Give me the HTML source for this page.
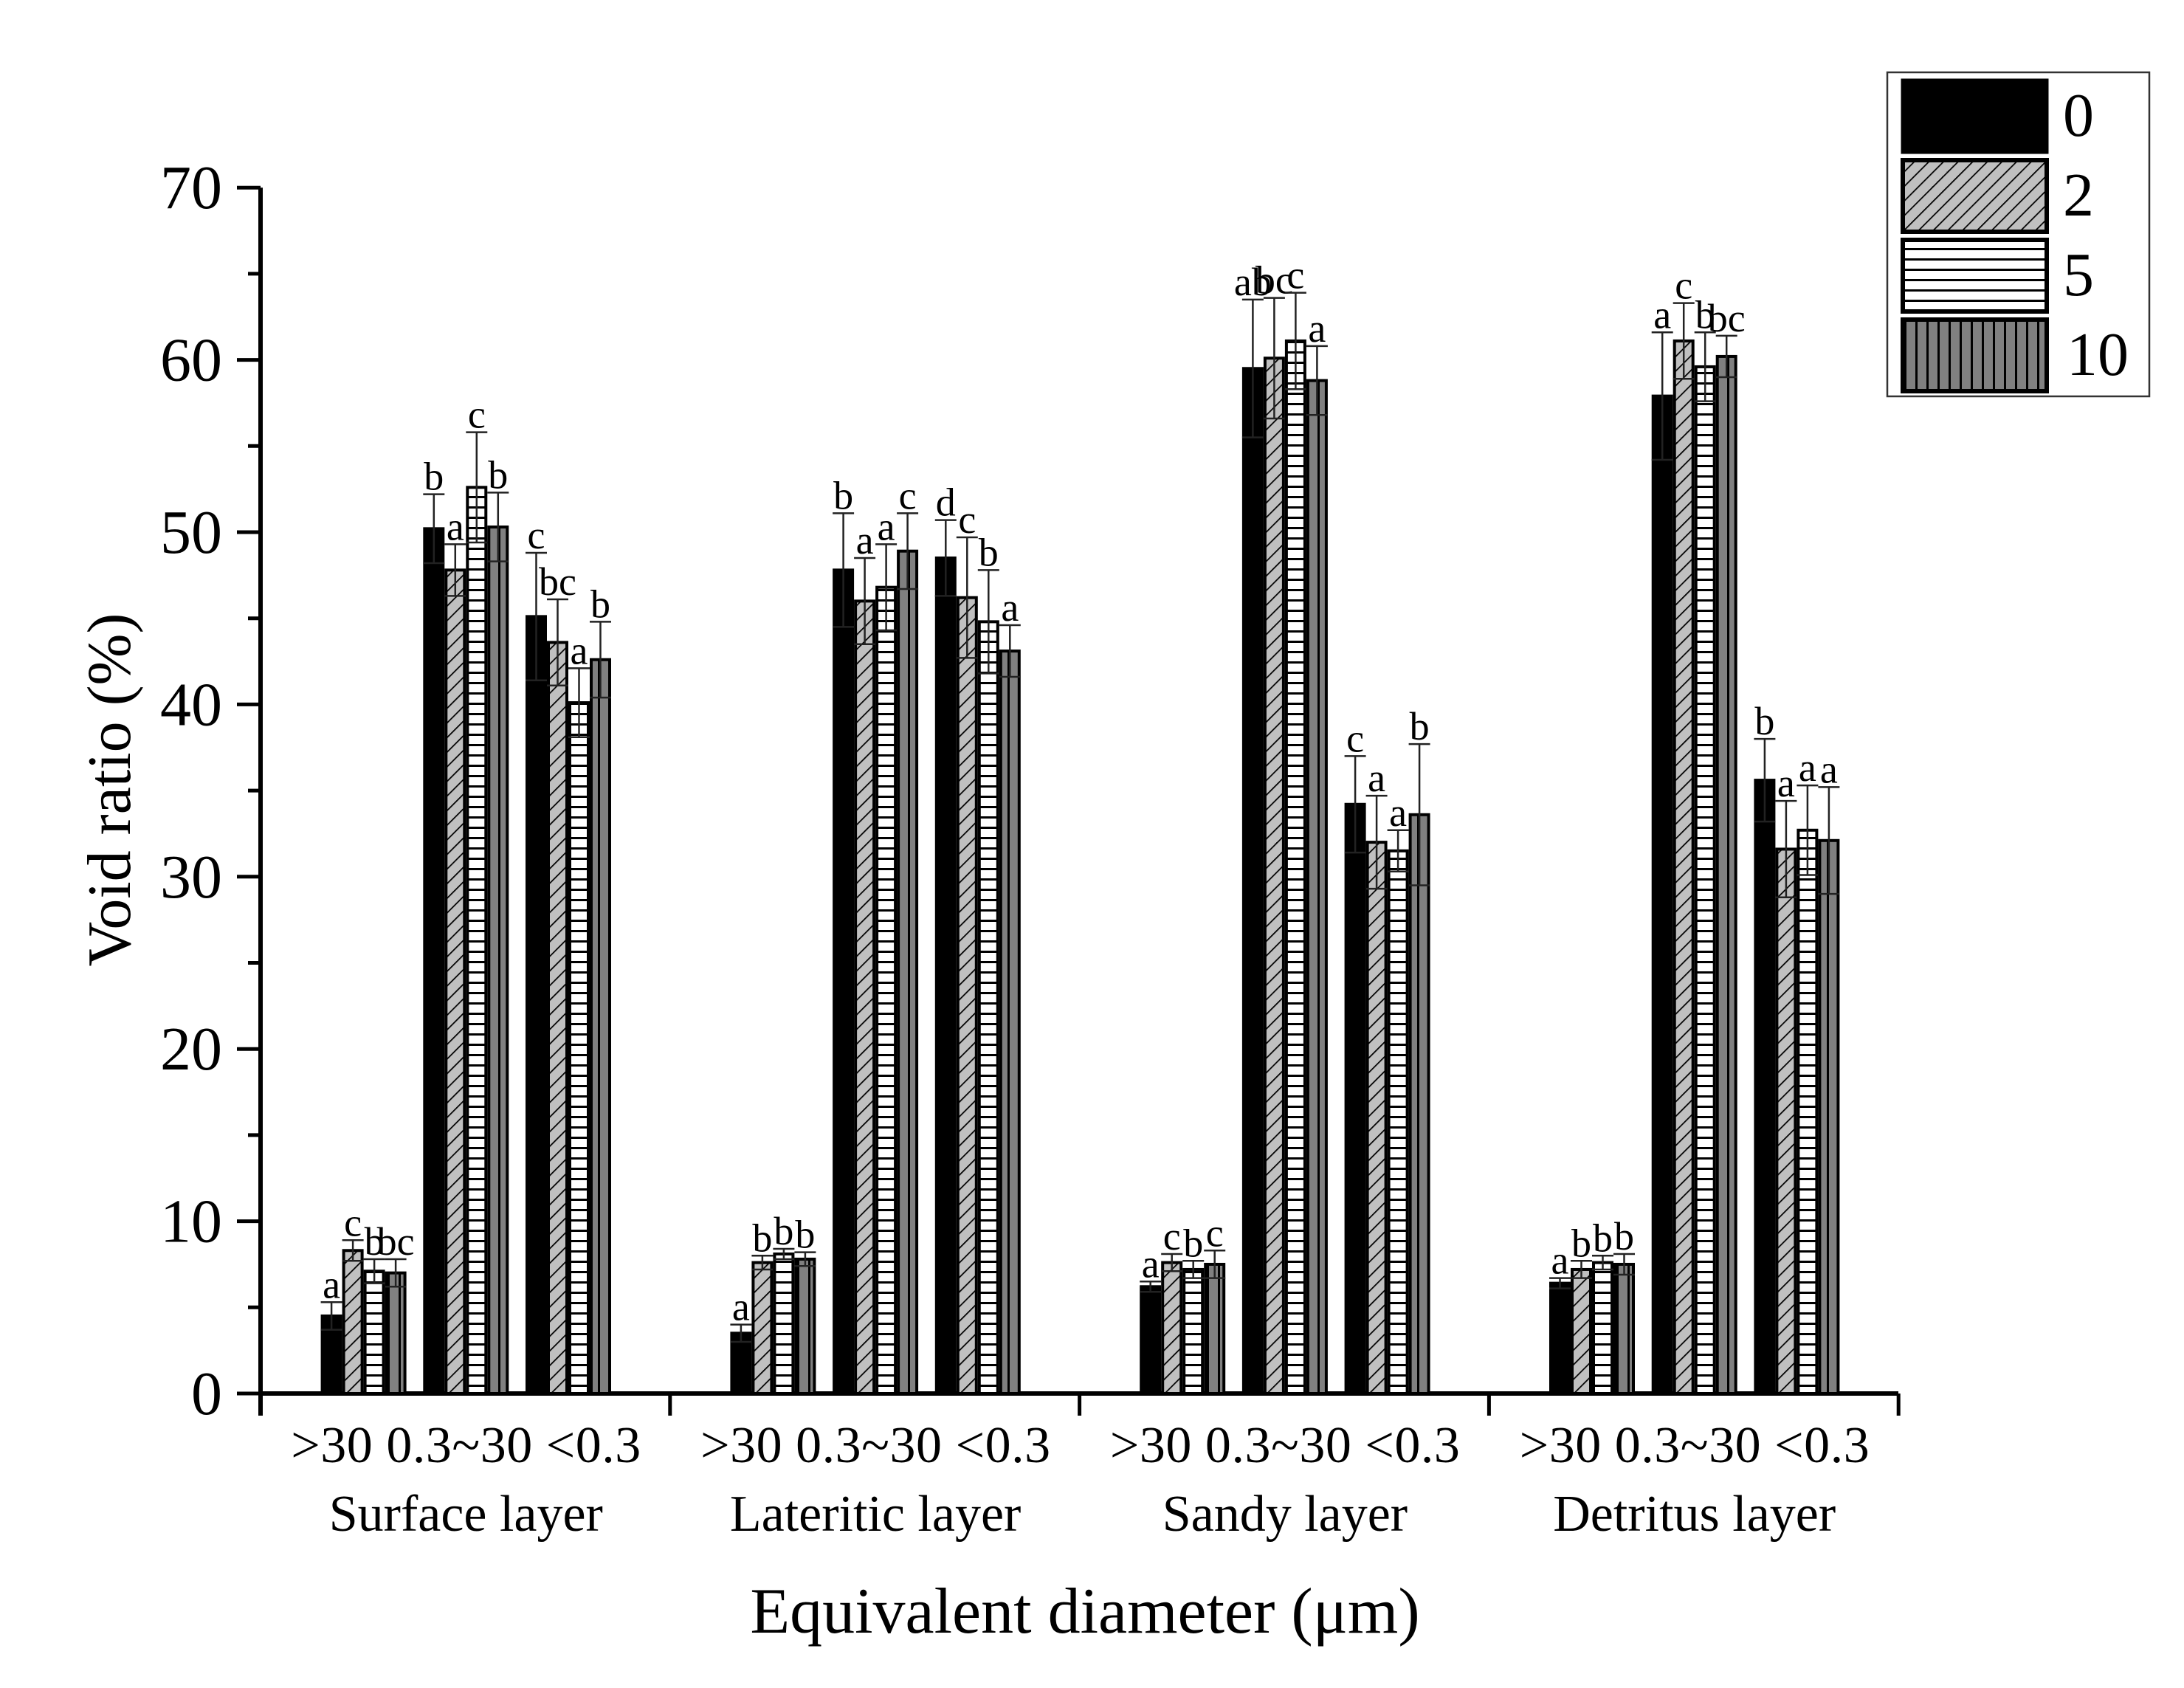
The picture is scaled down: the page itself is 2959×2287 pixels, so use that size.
<!DOCTYPE html>
<html><head><meta charset="utf-8">
<style>
html,body{margin:0;padding:0;background:#fff;}
svg{display:block;font-family:"Liberation Serif",serif;}
</style></head>
<body>
<svg id="chart" width="2959" height="2287" viewBox="0 0 2959 2287" xmlns="http://www.w3.org/2000/svg">
<defs>
<pattern id="pDiag" patternUnits="userSpaceOnUse" width="14" height="14" patternTransform="rotate(45)">
<rect width="14" height="14" fill="#c0c0c0"/><line x1="0" y1="0" x2="0" y2="14" stroke="#000" stroke-width="3.5"/></pattern>
<pattern id="pHoriz" patternUnits="userSpaceOnUse" width="14" height="14">
<rect width="14" height="14" fill="#fff"/><line x1="0" y1="1.5" x2="14" y2="1.5" stroke="#000" stroke-width="3"/></pattern>
<pattern id="pVert" patternUnits="userSpaceOnUse" width="15" height="15">
<rect width="15" height="15" fill="#808080"/><line x1="1.5" y1="0" x2="1.5" y2="15" stroke="#000" stroke-width="3"/></pattern>
</defs>
<g id="axes"></g>
<g id="bars"></g>
<g id="legend">
<rect x="2557" y="98" width="355" height="439" fill="#fff" stroke="#333" stroke-width="2.5"/>
<rect x="2578" y="109" width="195" height="97" fill="#000" stroke="#000" stroke-width="5"/>
<rect x="2578" y="217" width="195" height="97" fill="url(#pDiag)" stroke="#000" stroke-width="6"/>
<rect x="2578" y="325" width="195" height="97" fill="url(#pHoriz)" stroke="#000" stroke-width="6"/>
<rect x="2578" y="433" width="195" height="97" fill="url(#pVert)" stroke="#000" stroke-width="6"/>
<text x="2795" y="184" font-size="84">0</text>
<text x="2795" y="292" font-size="84">2</text>
<text x="2795" y="400" font-size="84">5</text>
<text x="2800" y="508" font-size="84">10</text>
</g>
</svg>
<script>
const groups = ["Surface layer","Lateritic layer","Sandy  layer","Detritus layer"];
const sizeClasses = [">30","0.3~30","<0.3"];
const yTicks = [0,10,20,30,40,50,60,70];
const series0 = [4.5,50.2,45.1, 3.5,47.8,48.5, 6.2,59.5,34.2, 6.4,57.9,35.6];
const series2 = [8.3,47.8,43.6, 7.6,46.0,46.2, 7.6,60.1,32.0, 7.2,61.1,31.6];
const series5 = [7.1,52.6,40.1, 8.1,46.8,44.8, 7.2,61.1,31.5, 7.6,59.6,32.7];
const series10 = [7.0,50.3,42.6, 7.8,48.9,43.1, 7.5,58.8,33.6, 7.5,60.2,32.1];
const err0 = [0.8,2.0,3.7, 0.5,3.3,2.2, 0.3,4.0,2.8, 0.3,3.7,2.4];
const err2 = [0.6,1.5,2.5, 0.4,2.5,3.5, 0.5,3.5,2.7, 0.5,2.2,2.8];
const err5 = [0.7,3.2,2.0, 0.3,2.5,3.0, 0.5,2.8,1.2, 0.4,2.0,2.6];
const err10 = [0.8,2.0,2.2, 0.4,2.2,1.5, 0.8,2.0,4.1, 0.6,1.2,3.1];
const let0 = ["a","b","c", "a","b","d", "a","ab","c", "a","a","b"];
const let2 = ["c","a","bc", "b","a","c", "c","bc","a", "b","c","a"];
const let5 = ["b","c","a", "b","a","b", "b","c","a", "b","b","a"];
const let10 = ["bc","b","b", "b","c","a", "c","a","b", "b","bc","a"];

const NS="http://www.w3.org/2000/svg";
const X0=353, X1=2572, Y0=1888, YPX=23.34, GW=554.8, BW=29;
const yS=v=>Y0-v*YPX;
const clusterX=(g,c)=>X0+GW*g+139.6+138.7*c;
function mk(tag,attrs,parent,text){const e=document.createElementNS(NS,tag);for(const k in attrs)e.setAttribute(k,attrs[k]);if(text!==undefined)e.textContent=text;parent.appendChild(e);return e;}
const axes=document.getElementById('axes'), barsG=document.getElementById('bars');

let el=mk('line',{x1:X0,y1:Y0+30,x2:X0,y2:yS(70),stroke:'#000','stroke-width':6},axes);


el=mk('line',{x1:X0-3,y1:Y0,x2:X1,y2:Y0,stroke:'#000','stroke-width':6},axes);


yTicks.forEach(t=>{
  const y=yS(t);
  let tk=mk('line',{x1:X0-32,y1:y,x2:X0,y2:y,stroke:'#000','stroke-width':5},axes);
  
  
  let lb=mk('text',{x:X0-52,y:y+28,'font-size':84,'text-anchor':'end'},axes,String(t));
  
  
  if(t<70){
    let mt=mk('line',{x1:X0-17,y1:yS(t+5),x2:X0,y2:yS(t+5),stroke:'#000','stroke-width':5},axes);
    
    
  }
});
for(let g=1;g<=4;g++){
  let tk=mk('line',{x1:X0+GW*g,y1:Y0,x2:X0+GW*g,y2:Y0+30,stroke:'#000','stroke-width':5},axes);
  
  
}
groups.forEach((gName,g)=>{
  let t=mk('text',{x:clusterX(g,1),y:1981,'font-size':70,'text-anchor':'middle',textLength:474,lengthAdjust:'spacing'},axes,sizeClasses.join(' '));
  
  
  let gt=mk('text',{x:clusterX(g,1),y:2074,'font-size':70,'text-anchor':'middle'},axes,gName);
  
  
});
el=mk('text',{x:1470,y:2212,'font-size':88,'text-anchor':'middle'},axes,'Equivalent diameter (\u03bcm)');


el=mk('text',{x:0,y:0,'font-size':84,'text-anchor':'middle',transform:'translate(176,1070) rotate(-90)'},axes,'Void ratio (%)');



const allSeries=[series0,series2,series5,series10];
const allErr=[err0,err2,err5,err10];
const allLet=[let0,let2,let5,let10];
const fills=['#000','url(#pDiag)','url(#pHoriz)','url(#pVert)'];
const names=['0','2','5','10'];
for(let s=0;s<4;s++){
  for(let i=0;i<12;i++){
    const g=Math.floor(i/3), c=i%3;
    const cx=clusterX(g,c)+(s-1.5)*BW;
    const v=allSeries[s][i], e=allErr[s][i];
    let r=mk('rect',{x:cx-BW/2+2,y:yS(v),width:BW-4,height:Y0-yS(v),fill:fills[s],stroke:'#000','stroke-width':4},barsG);
    
    
    let eb=mk('path',{d:`M${cx},${yS(v-e)}V${yS(v+e)}M${cx-BW/2},${yS(v+e)}H${cx+BW/2}M${cx-BW/2},${yS(v-e)}H${cx+BW/2}`,stroke:'#222',fill:'none','stroke-width':2.5},barsG);
    
    
    let lt=mk('text',{x:cx,y:yS(v+e)-6,'font-size':54,'text-anchor':'middle'},barsG,allLet[s][i]);
    
    
  }
}
</script>
</body></html>
